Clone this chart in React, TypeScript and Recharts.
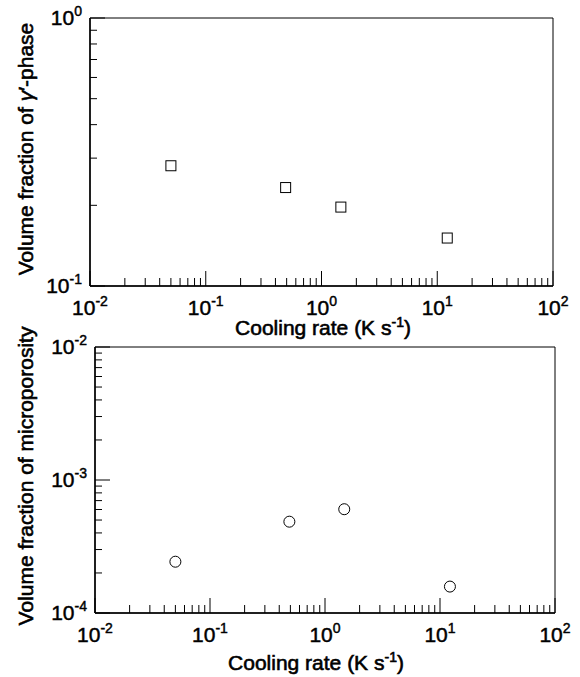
import React from 'react'
import { ScatterChart, XAxis, YAxis, Scatter, ReferenceArea, Label } from 'recharts'

// cooling rates (K/s) shared by both panels
const coolingRates = [0.05, 0.49, 1.47, 12.2]
// top panel: volume fraction of gamma' phase
const gammaFraction = [0.281, 0.233, 0.197, 0.151]
// bottom panel: volume fraction of microporosity
const porosityFraction = [2.43e-4, 4.86e-4, 6.03e-4, 1.58e-4]

const xDecades = [0.01, 0.1, 1, 10]
const gammaDecades = [0.1]
const porosityDecades = [1e-4, 1e-3]
const mantissas = [1, 2, 3, 4, 5, 6, 7, 8, 9]

const logTicks = (decades: number[], last: number) => [
  ...decades.flatMap(d => mantissas.map(m => m * d)),
  last,
]

const xTicks = logTicks(xDecades, 100)
const gammaTicks = logTicks(gammaDecades, 1)
const porosityTicks = logTicks(porosityDecades, 1e-2)

const FONT = '"Liberation Sans", Arial, Helvetica, sans-serif'
// regular face with a thin outline, to get the medium weight of the print
const textStyle = { fontFamily: FONT, fill: '#000', stroke: '#000', strokeWidth: 0.45 }

const decadeOf = (v: number) => {
  const l = Math.log10(v)
  const e = Math.round(l)
  return Math.abs(l - e) < 1e-6 ? e : null
}

const XTick = (props: any) => {
  const { x, y, payload } = props
  const e = decadeOf(payload.value)
  const major = e !== null
  return (
    <g>
      <line x1={x} y1={y} x2={x} y2={y - (major ? 15 : 8)} stroke="#000" strokeWidth={1} />
      {major && (
        <text x={x} y={y + 29} textAnchor="middle" fontSize={21} {...textStyle}>
          10<tspan dy={-9} fontSize={14}>{e}</tspan>
        </text>
      )}
    </g>
  )
}

const YTick = (props: any) => {
  const { x, y, payload } = props
  const e = decadeOf(payload.value)
  const major = e !== null
  return (
    <g>
      <line x1={x} y1={y} x2={x + (major ? 15 : 7)} y2={y} stroke="#000" strokeWidth={1} />
      {major && (
        <text x={x - 8} y={y + 7} textAnchor="end" fontSize={21} {...textStyle}>
          10<tspan dy={-9} fontSize={14}>{e}</tspan>
        </text>
      )}
    </g>
  )
}

const XTitle = ({ cx, baseline }: { cx: number; baseline: number }) => (
  <text x={cx} y={baseline} textAnchor="middle" fontSize={21} {...textStyle} strokeWidth={0.6}>
    Cooling rate (K s<tspan dy={-8} fontSize={14}>-1</tspan>
    <tspan dy={8}>)</tspan>
  </text>
)

const YTitle = ({ cy, children }: { cy: number; children: React.ReactNode }) => (
  <text
    x={33}
    y={cy}
    transform={`rotate(-90 33 ${cy})`}
    textAnchor="middle"
    fontSize={21}
    {...textStyle}
    strokeWidth={0.6}
  >
    {children}
  </text>
)

const Square = (props: any) => {
  const { cx, cy } = props
  return <rect x={cx - 5} y={cy - 5} width={10} height={10} fill="#fff" stroke="#000" strokeWidth={1} />
}

const Circle = (props: any) => {
  const { cx, cy } = props
  return <circle cx={cx} cy={cy} r={5.5} fill="#fff" stroke="#000" strokeWidth={1} />
}

const gammaData = coolingRates.map((r, i) => ({ x: r, y: gammaFraction[i] }))
const porosityData = coolingRates.map((r, i) => ({ x: r, y: porosityFraction[i] }))

export default function App() {
  return (
    <div style={{ position: 'absolute', left: 0, top: 0, width: 580, height: 677, background: '#fff' }}>
      <div style={{ position: 'absolute', left: 0, top: 0 }}>
        <ScatterChart width={580} height={340} margin={{ top: 18, right: 27, bottom: 0, left: 0 }}>
          <XAxis
            dataKey="x"
            type="number"
            scale="log"
            domain={[0.01, 100]}
            ticks={xTicks}
            interval={0}
            allowDataOverflow
            height={54}
            tickSize={0}
            tickMargin={0}
            tickLine={false}
            tick={<XTick />}
            axisLine={{ stroke: '#000', strokeWidth: 1.5 }}
          >
            <Label content={() => <XTitle cx={323} baseline={335} />} />
          </XAxis>
          <YAxis
            dataKey="y"
            type="number"
            scale="log"
            domain={[0.1, 1]}
            ticks={gammaTicks}
            interval={0}
            allowDataOverflow
            width={90}
            tickSize={0}
            tickMargin={0}
            tickLine={false}
            tick={<YTick />}
            axisLine={{ stroke: '#000', strokeWidth: 1.5 }}
          >
            <Label
              content={() => (
                <YTitle cy={149}>
                  Volume fraction of <tspan fontStyle="italic">γ</tspan>′-phase
                </YTitle>
              )}
            />
          </YAxis>
          <ReferenceArea x1={0.01} x2={100} y1={0.1} y2={1} fill="none" stroke="#000" strokeWidth={1} />
          <Scatter data={gammaData} shape={<Square />} isAnimationActive={false} />
        </ScatterChart>
      </div>
      <div style={{ position: 'absolute', left: 0, top: 300 }}>
        <ScatterChart width={580} height={377} margin={{ top: 47, right: 25, bottom: 0, left: 0 }}>
          <XAxis
            dataKey="x"
            type="number"
            scale="log"
            domain={[0.01, 100]}
            ticks={xTicks}
            interval={0}
            allowDataOverflow
            height={64}
            tickSize={0}
            tickMargin={0}
            tickLine={false}
            tick={<XTick />}
            axisLine={{ stroke: '#000', strokeWidth: 1.5 }}
          >
            <Label content={() => <XTitle cx={316} baseline={370} />} />
          </XAxis>
          <YAxis
            dataKey="y"
            type="number"
            scale="log"
            domain={[1e-4, 1e-2]}
            ticks={porosityTicks}
            interval={0}
            allowDataOverflow
            width={95}
            tickSize={0}
            tickMargin={0}
            tickLine={false}
            tick={<YTick />}
            axisLine={{ stroke: '#000', strokeWidth: 1.5 }}
          >
            <Label content={() => <YTitle cy={176}>Volume fraction of microporosity</YTitle>} />
          </YAxis>
          <ReferenceArea x1={0.01} x2={100} y1={1e-4} y2={1e-2} fill="none" stroke="#000" strokeWidth={1} />
          <Scatter data={porosityData} shape={<Circle />} isAnimationActive={false} />
        </ScatterChart>
      </div>
    </div>
  )
}
